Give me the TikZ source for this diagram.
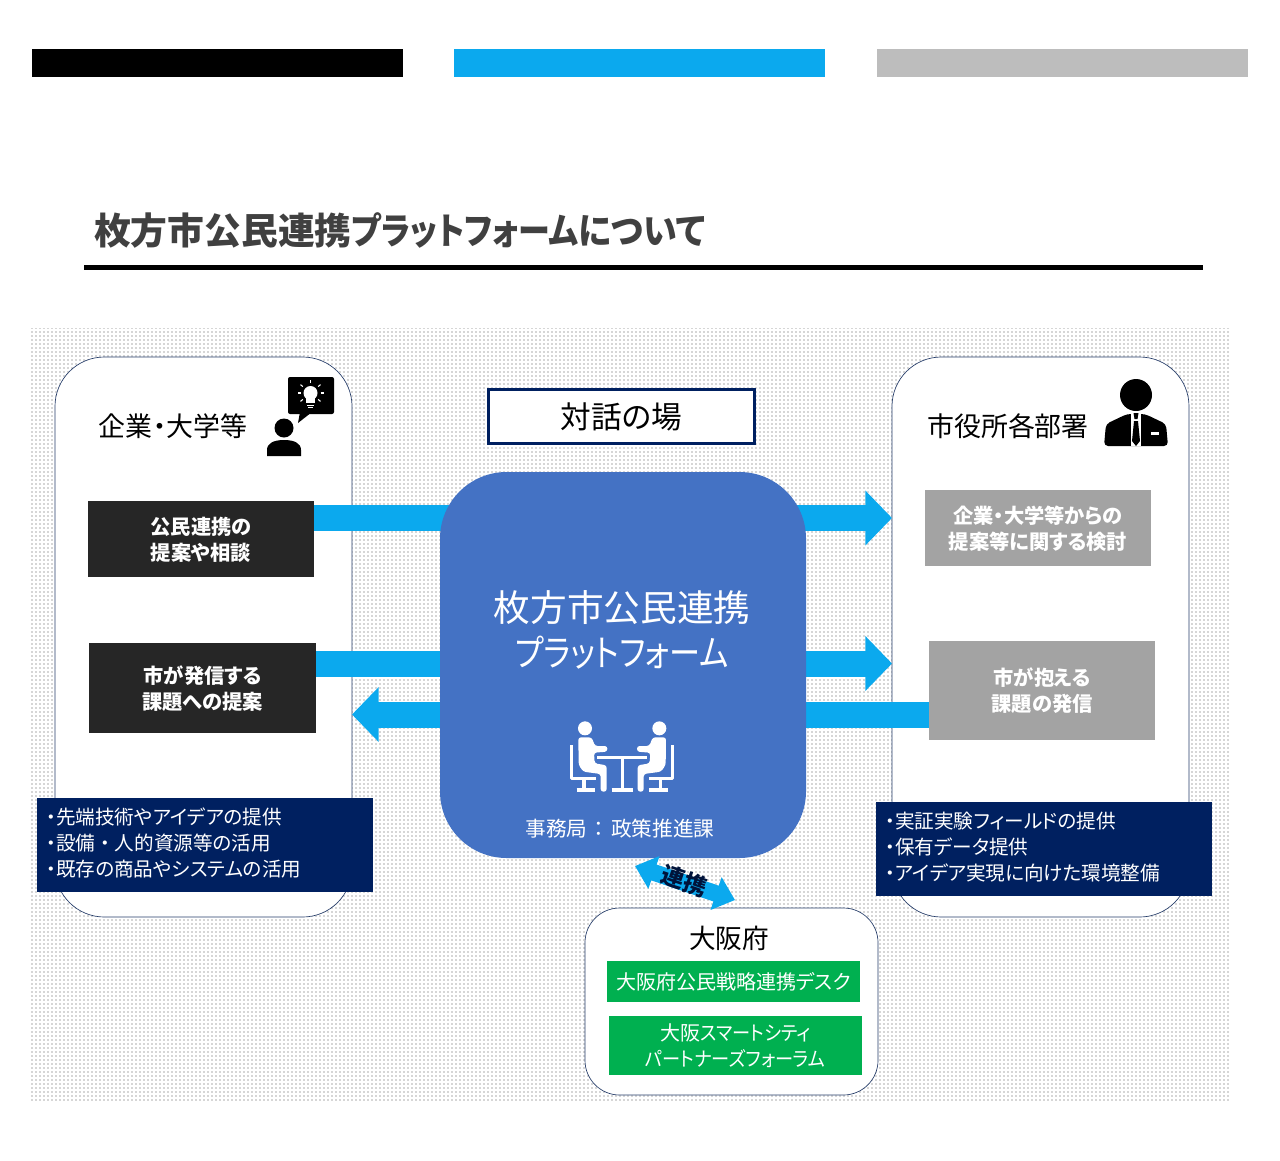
\documentclass[tikz,border=0pt]{standalone}
\usepackage{fontspec}
\usepackage{graphicx}
\setmainfont{Noto Sans CJK JP}[RawFeature={+palt}]
\usetikzlibrary{arrows.meta,patterns.meta,calc}
\definecolor{navy}{HTML}{002060}
\definecolor{sky}{HTML}{0BA9EE}
\definecolor{dk}{HTML}{262626}
\definecolor{gr}{HTML}{A3A3A3}
\definecolor{blu}{HTML}{4472C4}
\definecolor{grn}{HTML}{00B050}
\definecolor{lbar}{HTML}{BDBDBD}
\newcommand{\fs}[2]{\fontsize{#1pt}{#2pt}\selectfont}
\newcommand{\nar}[2]{\scalebox{#1}[1]{#2}}
\tikzset{
  x=0.75pt,y=-0.75pt,
  box/.style={inner sep=0pt,outer sep=0pt,align=center,text=white},
  bar/.style={box,minimum width=278.25pt,minimum height=21pt},
  panel/.style={box,draw=navy!70!gray,line width=0.5pt,fill=white,rounded corners=37pt,text=black},
  darkbox/.style={box,fill=dk,font=\fs{15.2}{19.5}\bfseries},
  graybox/.style={box,fill=gr,font=\fs{15.2}{19.5}\bfseries},
  navybox/.style={box,fill=navy,minimum width=252pt,minimum height=70.5pt},
  navytext/.style={box,text width=238pt,font=\fs{14.7}{19.5},align=left},
  greenbox/.style={box,fill=grn,font=\fs{15}{19.5}},
  flow/.style={draw=sky,line width=19.5pt,-{Triangle[length=20pt,width=40pt]}},
  twoway/.style={draw=sky,line width=12.5pt,{Triangle[length=15pt,width=25pt]}-{Triangle[length=15pt,width=25pt]}},
  iconline/.style={draw=white,line width=2.5pt,line join=round,fill=none},
}
\begin{document}
\begin{tikzpicture}
\useasboundingbox (0,0) rectangle (1280,1160);
\fill[white] (0,0) rectangle (1280,1160);
% top bars
\node[bar,fill=black] (barA) at (217.5,63) {};
\node[bar,fill=sky] (barB) at (639.5,63) {};
\node[bar,fill=lbar] (barC) at (1062.5,63) {};
% title
\node[box,anchor=west,text=black!75,font=\fs{27.6}{30}\bfseries] (title) at (94,230) {枚方市公民連携\nar{0.87}{プラットフォーム}\nar{0.92}{について}};
\fill[black] (84,265) rectangle (1203,270);
% dotted ground
\fill[white] (31,328) rectangle (1231,1102);
\fill[pattern={Dots[distance=3pt,radius=0.42pt]},pattern color=black!68] (31,328) rectangle (1231,1102);
% panels
\node[panel,minimum width=222.75pt,minimum height=420pt] (left) at (203.5,637) {};
\node[panel,minimum width=222.75pt,minimum height=420pt] (right) at (1040.5,637) {};
\node[panel,minimum width=219.75pt,minimum height=140.25pt,rounded corners=26pt] (osaka) at (731.5,1001.5) {};
\node[box,text=black,font=\fs{20.2}{24}] (ltitle) at (173,426) {企業・大学等};
\node[box,text=black,font=\fs{20.2}{24}] (rtitle) at (1008,426) {市役所各部署};
% left boxes
\node[darkbox,minimum width=169.5pt,minimum height=57pt] (d1) at (201,539) {};
\node[box,font=\fs{15.2}{19.5}\bfseries] (d1t) at ([yshift=-0.75pt]d1.center) {公民連携の\\提案や相談};
\node[darkbox,minimum width=170.25pt,minimum height=67.5pt] (d2) at (202.5,688) {};
\node[box,font=\fs{15.2}{19.5}\bfseries] (d2t) at ([yshift=-0.75pt]d2.center) {市が発信する\\課題への提案};
% right boxes
\node[graybox,minimum width=169.5pt,minimum height=57pt] (g1) at (1038,528) {};
\node[box,font=\fs{15.2}{19.5}\bfseries] (g1t) at ([yshift=-0.75pt]g1.center) {企業・大学等からの\\提案等に関する検討};
\node[graybox,minimum width=169.5pt,minimum height=74.25pt] (g2) at (1042,690.5) {市が抱える\\課題の発信};
% arrows
\coordinate (a1e) at (892,518);
\coordinate (a2e) at (892,663.5);
\coordinate (a3e) at (352,714.5);
\draw[flow] (d1.east |- a1e) -- (a1e);
\draw[flow] (d2.east |- a2e) -- (a2e);
\draw[flow] (g2.west |- a3e) -- (a3e);
% center
\node[box,fill=blu,minimum width=274.5pt,minimum height=289.5pt,rounded corners=50pt] (hub) at (623,665) {};
\node[box,font=\fs{27.5}{34}] (hubt) at (622,630) {枚方市公民連携\\\nar{0.85}{プラットフォーム}};
\node[box,font=\fs{15.5}{19}] (hubs) at (620,829) {事務局\hspace{5pt}：\hspace{5pt}政策推進課};
% meeting icon
\begin{scope}[shift={(500,700)},x=0.25pt,y=-0.25pt]
 \foreach \m/\o in {1/0,-1/733}{
  \begin{scope}[shift={(\o,0)},xscale=\m]
   \fill[white] (255,85) circle (21);
   \fill[white,rounded corners=2pt] (235,112) -- (275,112) -- (285,138) -- (322,138) -- (322,155) -- (282,158) -- (284,190) -- (320,196) -- (320,275) -- (302,275) -- (302,222) -- (250,215) -- (236,195) -- cycle;
   \draw[iconline] (215,135) -- (215,235) -- (287,235);
   \draw[iconline] (252,235) -- (252,268);
   \draw[iconline] (230,270) -- (285,270);
  \end{scope}}
 \draw[iconline] (291,172) -- (442,172);
 \draw[iconline] (366.5,172) -- (366.5,268);
 \draw[iconline] (335,270) -- (398,270);
\end{scope}
% dialogue box
\node[box,fill=white,draw=navy,line width=2.4pt,text=black,minimum width=200pt,minimum height=41pt,font=\fs{23}{26}] (dlg) at (621.5,416.5) {対話の場};
% navy boxes
\node[navybox] (n1) at (205,845) {};
\node[navytext] (n1t) at ([yshift=1.5pt]n1.center) {・先端技術やアイデアの提供\\・設備\hspace{3.7pt}・\hspace{3.7pt}人的資源等の活用\\・既存の商品やシステムの活用};
\node[navybox] (n2) at (1044,849) {};
\node[navytext] (n2t) at ([yshift=1.5pt]n2.center) {・実証実験フィールドの提供\\・保有データ提供\\・アイデア実現に向けた環境整備};
% osaka
\node[box,text=black,font=\fs{20}{24}] (ot) at (729,938) {大阪府};
\node[greenbox,minimum width=189.75pt,minimum height=30.75pt] (o1) at (733.5,981.5) {大阪府公民戦略連携デスク};
\node[greenbox,minimum width=189.75pt,minimum height=44.25pt] (o2) at (735.5,1045.5) {大阪\nar{0.91}{スマートシティ}\\\nar{0.91}{パートナーズフォーラム}};
% link
\coordinate (ls) at (635,866);
\coordinate (le) at (735,900);
\draw[twoway] (ls) -- (le);
\node[box,rotate=-19,text=navy!60!black,font=\fs{17.5}{20}\bfseries] (lk) at (684,881) {連携};
% icon: person with idea
\begin{scope}
 \fill[black,rounded corners=1.5pt] (288,377) rectangle (334,414);
 \fill[black] (300,412) -- (298,423) -- (312,412) -- cycle;
 \fill[white] (310.5,393) circle (7);
 \fill[white] (306,396) rectangle (315,403);
 \draw[white,line width=0.7pt] (307,405) -- (314,405);
 \draw[white,line width=0.7pt] (308,407.5) -- (313,407.5);
 \foreach \a in {0,40,90,140,180,220,320}{\draw[white,line width=0.8pt] ($(310.5,393)+(\a:-10)$) -- ($(310.5,393)+(\a:-13)$);}
 \fill[black] (284,428) circle (9.5);
 \fill[black] (267,456) -- (267,450) .. controls (267,443) and (274,440) .. (284,440) .. controls (294,440) and (301,443) .. (301,450) -- (301,456) -- cycle;
\end{scope}
% icon: official
\begin{scope}
 \fill[black] (1136,395) circle (16);
 \fill[black,rounded corners=3pt] (1104,446) -- (1106,424) -- (1127,414) -- (1145,414) -- (1166,424) -- (1168,446) -- cycle;
 \fill[white] (1131,414) rectangle (1141,446);
 \fill[black] (1133.5,413) -- (1138.5,413) -- (1137.5,419) -- (1134.5,419) -- cycle;
 \fill[black] (1134,421) -- (1138,421) -- (1140,441) -- (1136,446) -- (1132,441) -- cycle;
 \fill[white] (1151,432) rectangle (1159,435);
\end{scope}
\end{tikzpicture}
\end{document}
